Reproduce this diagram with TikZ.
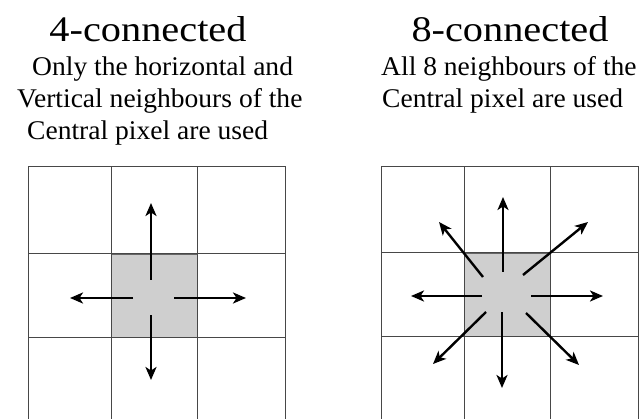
\documentclass[tikz,border=0pt]{standalone}
\usepackage{fontspec}
\setmainfont{Liberation Serif}
\usetikzlibrary{arrows.meta}
\tikzset{
  gridline/.style={draw=black!72, line width=1pt},
  center cell/.style={fill=gray!38, draw=black!60, line width=0.8pt},
  nbarrow/.style={line width=2.4pt, -{Stealth[length=13pt,width=11pt,inset=3.5pt]}},
  title/.style={inner sep=0pt, anchor=base, xscale=1.12, font=\fontsize{36}{40}\selectfont},
  body/.style={inner sep=0pt, anchor=base west, xscale=1.02, font=\fontsize{27}{31}\selectfont},
}
\begin{document}
\begin{tikzpicture}[x=1pt,y=-1pt]
\useasboundingbox (0,0) rectangle (639,419);
\fill[white] (0,0) rectangle (639,419);

% titles
\node[title] (t4) at (148,42) {4-connected};
\node[title] (t8) at (510,42) {8-connected};

% left description
\node[body] (l1) at (32,76) {Only the horizontal and};
\node[body] (l2) at (17,108) {Vertical neighbours of the};
\node[body] (l3) at (27,140) {Central pixel are used};

% right description
\node[body] (r1) at (381,76) {All 8 neighbours of the};
\node[body] (r2) at (382,108) {Central pixel are used};

% ---- left grid ----
\path[center cell] (111,254) rectangle (197,337);
\draw[gridline] (28,419) -- (28,167) -- (285,167) -- (285,419);
\draw[gridline] (111,167) -- (111,419);
\draw[gridline] (197,167) -- (197,419);
\draw[gridline] (28,254) -- (285,254);
\draw[gridline] (28,337) -- (285,337);

\coordinate (lus) at (151,280); \coordinate (lue) at (151,203);
\coordinate (lds) at (151,315); \coordinate (lde) at (151,380);
\coordinate (lls) at (133,298); \coordinate (lle) at (70,298);
\coordinate (lrs) at (174,298); \coordinate (lre) at (246,298);
\draw[nbarrow] (lus) -- (lue);
\draw[nbarrow] (lds) -- (lde);
\draw[nbarrow] (lls) -- (lle);
\draw[nbarrow] (lrs) -- (lre);

% ---- right grid ----
\path[center cell] (464,253) rectangle (550,336);
\draw[gridline] (381,419) -- (381,167) -- (638,167) -- (638,419);
\draw[gridline] (464,167) -- (464,419);
\draw[gridline] (550,167) -- (550,419);
\draw[gridline] (381,253) -- (638,253);
\draw[gridline] (381,336) -- (638,336);

\coordinate (rus) at (503,272); \coordinate (rue) at (503,197);
\coordinate (rds) at (502,312); \coordinate (rde) at (502,388);
\coordinate (rls) at (482,296); \coordinate (rle) at (411,296);
\coordinate (rrs) at (531,296); \coordinate (rre) at (603,296);
\coordinate (ruls) at (483,277); \coordinate (rule) at (439,222);
\coordinate (rurs) at (523,275); \coordinate (rure) at (588,222);
\coordinate (rdls) at (486,312); \coordinate (rdle) at (433,364);
\coordinate (rdrs) at (526,313); \coordinate (rdre) at (579,365);
\draw[nbarrow] (rus) -- (rue);
\draw[nbarrow] (rds) -- (rde);
\draw[nbarrow] (rls) -- (rle);
\draw[nbarrow] (rrs) -- (rre);
\draw[nbarrow] (ruls) -- (rule);
\draw[nbarrow] (rurs) -- (rure);
\draw[nbarrow] (rdls) -- (rdle);
\draw[nbarrow] (rdrs) -- (rdre);
\end{tikzpicture}
\end{document}
